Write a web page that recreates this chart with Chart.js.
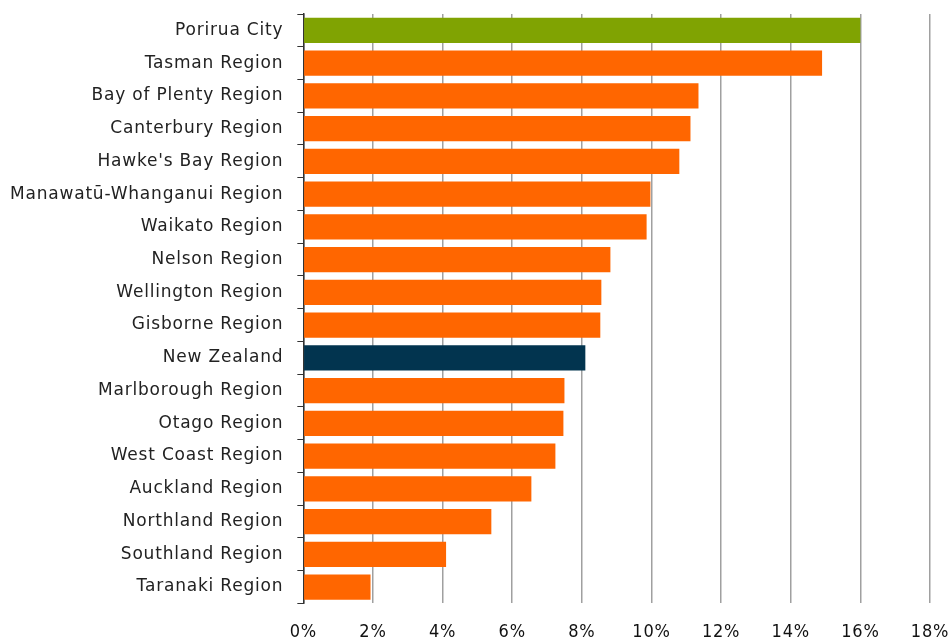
<!DOCTYPE html>
<html><head><meta charset="utf-8">
<script src="https://cdn.jsdelivr.net/npm/chart.js@4/dist/chart.umd.min.js"></script>
<style>html,body{margin:0;padding:0;background:#fff}#wrap{width:948px;height:640px}</style>
</head><body><div id="wrap"><canvas id="c" width="948" height="640"></canvas></div>
<script>
const categories = ["Porirua City","Tasman Region","Bay of Plenty Region","Canterbury Region","Hawke's Bay Region","Manawatū-Whanganui Region","Waikato Region","Nelson Region","Wellington Region","Gisborne Region","New Zealand","Marlborough Region","Otago Region","West Coast Region","Auckland Region","Northland Region","Southland Region","Taranaki Region"];
const values = [16.0,14.9,11.35,11.12,10.8,9.97,9.86,8.82,8.56,8.53,8.1,7.5,7.47,7.24,6.55,5.4,4.1,1.93];
const xTicks = [0,2,4,6,8,10,12,14,16,18];
const colors = categories.map(c => c === "Porirua City" ? "#80A302" : (c === "New Zealand" ? "#02344F" : "#FF6600"));
const spacing = {
  id: 'spacing',
  beforeUpdate(chart) { chart.ctx.letterSpacing = '0.8px'; },
  beforeDraw(chart) { chart.ctx.letterSpacing = '0.8px'; }
};
const noPad = (s) => { s.paddingTop = 0; s.paddingBottom = 0; s.paddingLeft = 0; s.paddingRight = 0; };
new Chart(document.getElementById('c'), {
  type: 'bar',
  data: { labels: categories, datasets: [{ data: values, backgroundColor: colors, borderWidth: 0, barPercentage: 0.77, categoryPercentage: 1.0 }] },
  plugins: [spacing],
  options: {
    indexAxis: 'y', responsive: false, animation: false,
    layout: { padding: { top: 14, right: 18, bottom: -21, left: -4 } },
    plugins: { legend: { display: false }, tooltip: { enabled: false } },
    scales: {
      x: {
        min: 0, max: 18,
        afterBuildTicks: (s) => { s.ticks = xTicks.map(v => ({ value: v })); },
        afterFit: noPad,
        ticks: { callback: v => v + '%', color: '#111', font: { family: "'Liberation Sans Narrow','DejaVu Sans Condensed','Liberation Sans'", size: 18 }, padding: 18, maxRotation: 0 },
        grid: { color: '#a0a0a0', lineWidth: 1.5, drawTicks: false },
        border: { display: false }
      },
      y: {
        afterFit: noPad,
        ticks: { color: '#222', font: { family: "'DejaVu Sans'", size: 17 }, padding: 14 },
        grid: { offset: true, drawOnChartArea: false, drawTicks: true, tickLength: 6, color: '#333' },
        border: { color: '#333', width: 1.5 }
      }
    }
  }
});
</script></body></html>
